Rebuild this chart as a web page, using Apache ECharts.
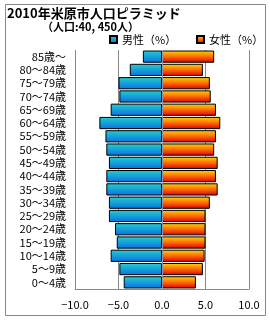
<!DOCTYPE html>
<html><head><meta charset="utf-8">
<script src="https://cdn.jsdelivr.net/npm/echarts@6/dist/echarts.min.js"></script>
<style>html,body{margin:0;padding:0;background:#fff}#c{width:270px;height:320px}</style>
</head><body><div id="c"></div>
<script>
const categories = ["85歳～","80～84歳","75～79歳","70～74歳","65～69歳","60～64歳","55～59歳","50～54歳","45～49歳","40～44歳","35～39歳","30～34歳","25～29歳","20～24歳","15～19歳","10～14歳","5～9歳","0～4歳"];
const maleValues = [2.2,3.7,5.0,4.9,5.9,7.2,6.5,6.4,6.1,6.4,6.4,6.1,6.1,5.4,5.2,5.9,4.9,4.4];
const femaleValues = [6.0,4.7,5.5,5.6,6.2,6.7,6.2,6.0,6.4,6.2,6.4,5.5,5.0,5.0,5.0,4.9,4.7,3.9];
const xTicks = {min:-10, max:10, interval:5};
const titleText = "2010年米原市人口ピラミッド";
const subText = "（人口:40, 450人）";
const maleName = "男性（%）";
const femaleName = "女性（%）";

const FONT = '"Noto Sans CJK JP", sans-serif';
const chart = echarts.init(document.getElementById('c'), null, {renderer:'canvas'});
const maleGrad = new echarts.graphic.LinearGradient(0,0,0,1,[{offset:0,color:'#22D0D0'},{offset:1,color:'#0A70E0'}]);
const femaleGrad = new echarts.graphic.LinearGradient(0,0,0,1,[{offset:0,color:'#FFD800'},{offset:0.5,color:'#FF6A00'},{offset:1,color:'#D80000'}]);
const legendBase = {orient:'horizontal', top:34, padding:0, itemWidth:7, itemHeight:7, icon:'rect',
    textStyle:{fontSize:11, color:'#000', fontFamily:FONT}};
chart.setOption({
  animation:false,
  textStyle:{fontFamily:FONT},
  title:[
    {text:titleText, left:7, top:6, padding:0, textStyle:{fontSize:13, lineHeight:14, fontWeight:'bold', color:'#000', fontFamily:FONT}},
    {text:subText, left:42, top:21, padding:0, textStyle:{fontSize:11, lineHeight:12, fontWeight:'bold', color:'#000', fontFamily:FONT}}
  ],
  graphic:[{type:'rect', shape:{x:5.5,y:4.5,width:260,height:311}, style:{fill:null, stroke:'#888', lineWidth:1}, z:-1}],
  legend:[Object.assign({left:109, data:[maleName]}, legendBase), Object.assign({left:196, data:[femaleName]}, legendBase)],
  grid:{left:75, right:21, top:50, bottom:31},
  xAxis:{type:'value', min:xTicks.min, max:xTicks.max, interval:xTicks.interval,
    axisLine:{show:true, lineStyle:{color:'#888'}}, axisTick:{show:false},
    splitLine:{show:true, lineStyle:{color:'#888', width:1}},
    axisLabel:{margin:10, fontSize:11, color:'#000', fontFamily:FONT, formatter:v=>(v<0?'−':'')+Math.abs(v).toFixed(1)}},
  yAxis:{type:'category', data:categories, inverse:true,
    axisLine:{show:false}, axisTick:{show:false}, splitLine:{show:false},
    axisLabel:{interval:0, margin:9, fontSize:11, color:'#000', fontFamily:FONT}},
  series:[
    {name:maleName, type:'bar', stack:'p', data:maleValues.map(v=>-v), barCategoryGap:'8%',
     itemStyle:{color:maleGrad, borderColor:'#000', borderWidth:1},
     markLine:{silent:true, symbol:'none', label:{show:false}, lineStyle:{color:'#8898A8', type:'solid', width:1}, data:[{xAxis:0}]}},
    {name:femaleName, type:'bar', stack:'p', data:femaleValues, barCategoryGap:'8%',
     itemStyle:{color:femaleGrad, borderColor:'#000', borderWidth:1}}
  ]
});
</script></body></html>
